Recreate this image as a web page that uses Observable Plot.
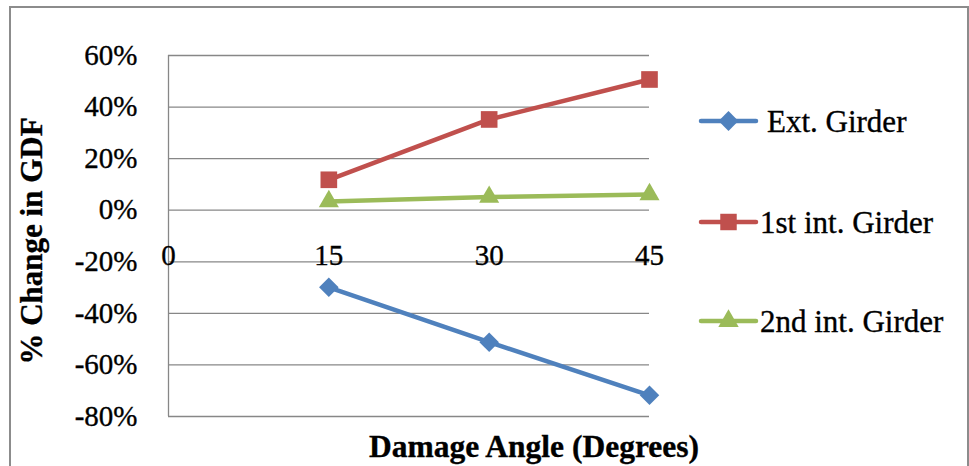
<!DOCTYPE html>
<html><head><meta charset="utf-8">
<script src="https://cdn.jsdelivr.net/npm/d3@7"></script>
<script src="https://cdn.jsdelivr.net/npm/@observablehq/plot@0.6"></script>
<style>
html,body{margin:0;padding:0;background:#fff;overflow:hidden;}
#wrap{position:relative;width:969px;height:466px;overflow:hidden;font-family:'Liberation Serif','Times New Roman','DejaVu Serif',serif;}
#frame{position:absolute;left:9px;top:6px;width:960px;height:520px;border:2px solid #8c8c8c;box-sizing:border-box;}
#chart,#over{position:absolute;left:0;top:0;}
#wrap svg text{font-family:'Liberation Serif','Times New Roman','DejaVu Serif',serif !important;stroke:#000;stroke-width:0.35px;}
</style>
</head><body>
<div id="wrap"><div id="frame"></div><div id="chart"></div><svg id="over" width="969" height="466"></svg></div>
<script>
// ---- data ----
const angles = [15, 30, 45];
const extGirder = [-0.299, -0.512, -0.718];
const firstIntGirder = [0.118, 0.352, 0.507];
const secondIntGirder = [0.034, 0.051, 0.061];
const seriesNames = ["Ext. Girder", "1st int. Girder", "2nd int. Girder"];
const seriesColors = ["#4F81BD", "#C0504D", "#9BBB59"];
const seriesSymbols = ["diamond2", "square2", "triangle2"];
const xTicks = [0, 15, 30, 45];
const yTicks = [-0.8, -0.6, -0.4, -0.2, 0, 0.2, 0.4, 0.6];
const xTitle = "Damage Angle (Degrees)";
const yTitle = "% Change in GDF";

const seriesValues = [extGirder, firstIntGirder, secondIntGirder];
const rows = [];
seriesValues.forEach((vals, i) => vals.forEach((v, j) => rows.push({series: seriesNames[i], angle: angles[j], value: v})));

const font = "'Liberation Serif', 'Times New Roman', 'DejaVu Serif', serif";
const gridColor = "#878787";
const symR = {diamond2: 8.8, square2: 10.6, triangle2: 9.6};

const marks = [
  Plot.gridY(yTicks, {stroke: gridColor, strokeOpacity: 1, strokeWidth: 1.3}),
  Plot.ruleX([0], {stroke: gridColor, strokeWidth: 1.3}),
  Plot.axisY(yTicks, {tickSize: 0, tickPadding: 31, fontSize: 29, label: null,
    tickFormat: d => Math.round(d * 100) + "%", fill: "#000"}),
  Plot.text(xTicks, {x: d => d, y: d => 0, dy: 46, fontSize: 29, text: d => String(d), fill: "#000"})
];
seriesNames.forEach((name, i) => {
  const data = rows.filter(r => r.series === name);
  marks.push(Plot.line(data, {x: "angle", y: "value", stroke: seriesColors[i], strokeWidth: 4.5, strokeLinejoin: "round"}));
});
seriesNames.forEach((name, i) => {
  const data = rows.filter(r => r.series === name);
  marks.push(Plot.dot(data, {x: "angle", y: "value", fill: seriesColors[i], symbol: seriesSymbols[i], r: symR[seriesSymbols[i]], stroke: "none"}));
});

const chart = Plot.plot({
  width: 969, height: 466,
  marginLeft: 168, marginRight: 320, marginTop: 55, marginBottom: 50,
  x: {domain: [0, 45], axis: null},
  y: {domain: [-0.8, 0.6], axis: null},
  style: {fontFamily: font, background: "transparent", color: "#000"},
  marks
});
document.getElementById("chart").appendChild(chart);

// ---- overlay: titles and legend ----
const over = d3.select("#over").attr("font-family", font);
over.append("text")
  .attr("transform", "translate(31,241) rotate(-90)")
  .attr("text-anchor", "middle").attr("dy", "0.35em").attr("font-family", font)
  .attr("font-size", 31).attr("font-weight", "bold").text(yTitle);
over.append("text")
  .attr("x", 534).attr("y", 457).attr("text-anchor", "middle").attr("font-family", font)
  .attr("font-size", 31.5).attr("font-weight", "bold").text(xTitle);

const legY = [121, 222, 321];
const legTextX = [767, 760, 760];
const legSym = [d3.symbolDiamond2, d3.symbolSquare2, d3.symbolTriangle2];
const legSize = [80, 110, 95];
seriesNames.forEach((name, i) => {
  const g = over.append("g");
  g.append("line").attr("x1", 701).attr("x2", 756).attr("y1", legY[i]).attr("y2", legY[i])
    .attr("stroke", seriesColors[i]).attr("stroke-width", 4.5).attr("stroke-linecap", "round");
  g.append("path").attr("d", d3.symbol(legSym[i], legSize[i] * Math.PI)())
    .attr("transform", `translate(728.5,${legY[i]})`).attr("fill", seriesColors[i]);
  g.append("text").attr("x", legTextX[i]).attr("y", legY[i]).attr("dy", "0.35em")
    .attr("font-family", font).attr("font-size", 31).text(name);
});
</script>
</body></html>
